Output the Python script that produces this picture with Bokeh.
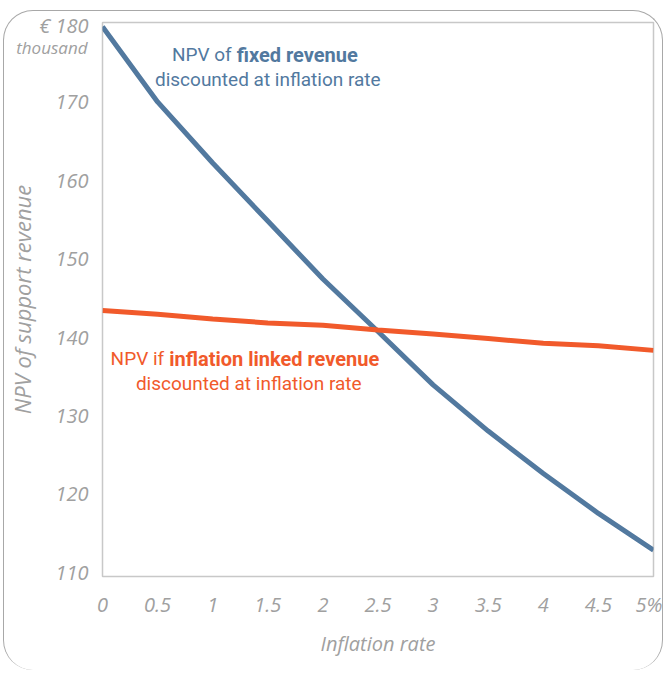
from bokeh.plotting import figure
from bokeh.models import Range1d, FixedTicker, LinearAxis
from bokeh.core.properties import value
from bokeh.embed import file_html
from bokeh.resources import INLINE

# ---- data ----
inflation = [0, 0.5, 1, 1.5, 2, 2.5, 3, 3.5, 4, 4.5, 5]
npv_fixed = [179.6, 170.0, 162.2, 154.8, 147.4, 140.7, 133.9, 128.0, 122.6, 117.5, 112.8]
npv_linked = [143.4, 142.9, 142.3, 141.8, 141.5, 140.9, 140.4, 139.8, 139.2, 138.9, 138.3]
x_ticks = [0, 0.5, 1, 1.5, 2, 2.5, 3, 3.5, 4, 4.5, 5]
x_tick_labels = ["0", "0.5", "1", "1.5", "2", "2.5", "3", "3.5", "4", "4.5", "5%"]
y_ticks = [110, 120, 130, 140, 150, 160, 170, 180]
y_tick_labels = ["110", "120", "130", "140", "150", "160", "170", "€ 180"]
unit_tick = [177]
unit_label = ["thousand"]

BLUE = "#52799f"
RED = "#f15a2b"
GREY = "#a0a0a0"
FONT = "Open Sans"
NARROW = "Roboto"

p = figure(width=660, height=660,
           x_range=Range1d(0, 5), y_range=Range1d(109.45, 180.13),
           output_backend="svg", toolbar_location=None,
           min_border_left=96, min_border_right=11,
           min_border_top=11, min_border_bottom=95)

p.styles = {"margin-left": "3px", "margin-top": "10px",
            "border": "1.5px solid #a8a8a8", "border-bottom": "none",
            "border-radius": "30px"}
p.background_fill_color = "white"
p.border_fill_color = None
p.outline_line_color = "#c8c8c8"
p.outline_line_width = 1.5
p.xgrid.visible = False
p.ygrid.visible = False

xax = p.xaxis[0]
yax = p.yaxis[0]
yax2 = LinearAxis()
p.add_layout(yax2, "left")

for ax in (xax, yax, yax2):
    ax.axis_line_color = None
    ax.major_tick_line_color = None
    ax.minor_tick_line_color = None
    ax.major_label_text_font = FONT
    ax.major_label_text_font_style = "italic"
    ax.major_label_text_font_size = "20px"
    ax.major_label_text_color = GREY
    ax.axis_label_text_font = FONT
    ax.axis_label_text_font_style = "italic"
    ax.axis_label_text_font_size = "20px"
    ax.axis_label_text_color = GREY

xax.ticker = FixedTicker(ticks=x_ticks)
xax.major_label_overrides = dict(zip(x_ticks, x_tick_labels))
xax.major_label_standoff = 8
xax.axis_label = "Inflation rate"
xax.axis_label_standoff = 9

yax.ticker = FixedTicker(ticks=y_ticks)
yax.major_label_overrides = dict(zip(y_ticks, y_tick_labels))
yax.major_label_standoff = 8

# outer axis: carries the unit line ("thousand") and the axis title
yax2.ticker = FixedTicker(ticks=unit_tick)
yax2.major_label_overrides = dict(zip(unit_tick, unit_label))
yax2.major_label_text_font_size = "17px"
yax2.major_label_standoff = -57
yax2.axis_label = "NPV of support revenue"
yax2.axis_label_text_font_size = "22px"
yax2.axis_label_standoff = -24

p.line(inflation, npv_fixed, line_color=BLUE, line_width=5)
p.line(inflation, npv_linked, line_color=RED, line_width=5)

# annotations
def txt(x, y, s, color, align, bold=False, xo=0):
    p.text(x=[x], y=[y], text=[s], x_offset=xo, text_align=align,
           text_baseline="middle", text_font=value(NARROW),
           text_font_style="bold" if bold else "normal",
           text_font_size="20px" if bold else "19px", text_color=color)

txt(1.218, 176.0, "NPV of", BLUE, "right", xo=-5)
txt(1.218, 176.0, "fixed revenue", BLUE, "left", bold=True)
txt(1.50, 172.8, "discounted at inflation rate", BLUE, "center")

txt(0.605, 137.2, "NPV if", RED, "right", xo=-5)
txt(0.605, 137.2, "inflation linked revenue", RED, "left", bold=True)
txt(1.327, 134.1, "discounted at inflation rate", RED, "center")

open("out.html", "w").write(file_html(p, INLINE))
